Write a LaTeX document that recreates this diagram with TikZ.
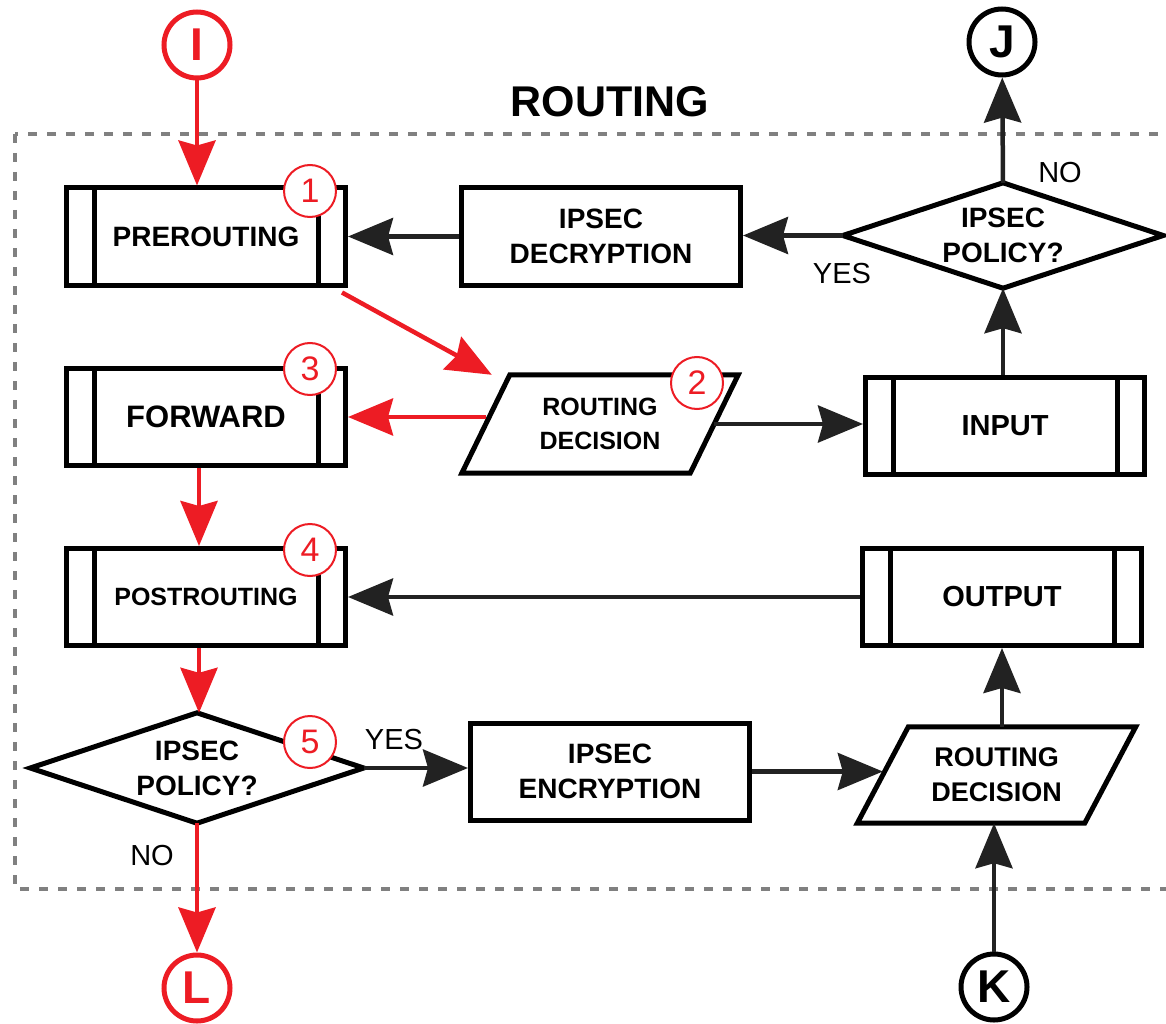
\documentclass[tikz,border=0pt]{standalone}
\usepackage{fontspec}
\setmainfont{Liberation Sans}
\usetikzlibrary{arrows.meta}

\definecolor{flowred}{RGB}{237,28,36}
\definecolor{flowdark}{RGB}{34,34,34}
\definecolor{framegray}{RGB}{128,128,128}

\begin{document}
\begin{tikzpicture}[x=1pt, y=-1pt,
  box/.style={draw, line width=5pt, fill=white, minimum width=279pt, minimum height=97pt,
    inner sep=0pt, align=center, font=\bfseries\fontsize{28}{35}\selectfont},
  plain/.style={inner sep=0pt, align=center, font=\bfseries\fontsize{25}{34}\selectfont},
  badge/.style={circle, draw=flowred, line width=2pt, fill=white, minimum size=52pt,
    inner sep=0pt, text=flowred, font=\fontsize{34}{34}\selectfont},
  term/.style={circle, draw, line width=5pt, fill=white, minimum size=66pt, inner sep=0pt,
    font=\bfseries\fontsize{46}{46}\selectfont},
  lbl/.style={font=\fontsize{29}{29}\selectfont},
  flow/.style={draw=flowdark, line width=4.5pt, -{Stealth[length=45pt, width=37pt, inset=5pt]}},
  redflow/.style={flow, draw=flowred},
]
\useasboundingbox (0,0) rectangle (1166,1024);

\draw[framegray, line width=4.5pt, dash pattern=on 9pt off 10pt] (15,134) rectangle (1190,889);
\node[font=\bfseries\fontsize{43}{43}\selectfont] (title) at (610,102) {ROUTING};

% chains
\node[box, font=\bfseries\fontsize{28}{34}\selectfont] (pre) at (206,236.5) {PREROUTING};
\node[box, font=\bfseries\fontsize{31}{34}\selectfont] (fwd) at (206,417) {FORWARD};
\node[box, font=\bfseries\fontsize{25}{34}\selectfont] (post) at (206,597) {POSTROUTING};
\node[box, font=\bfseries\fontsize{29}{34}\selectfont] (inp) at (1005,426) {INPUT};
\node[box, font=\bfseries\fontsize{29}{34}\selectfont] (out) at (1002,597) {OUTPUT};
\foreach \n in {pre,fwd,post,inp,out}{
  \draw[line width=5pt] ([xshift=30pt]\n.north west) -- ([xshift=30pt]\n.south west);
  \draw[line width=5pt] ([xshift=-30pt]\n.north east) -- ([xshift=-30pt]\n.south east);
}

% ipsec
\node[box] (dec) at (601,236.5) {IPSEC\\DECRYPTION};
\node[box] (enc) at (610,771.5) {IPSEC\\ENCRYPTION};

% routing decisions
\node[plain, minimum width=228pt, minimum height=98pt] (rd1) at (600,424) {ROUTING\\DECISION};
\draw[line width=5pt] ([xshift=24pt]rd1.north west) -- ([xshift=24pt]rd1.north east)
  -- ([xshift=-24pt]rd1.south east) -- ([xshift=-24pt]rd1.south west) -- cycle;
\node[plain, font=\bfseries\fontsize{27}{35}\selectfont, minimum width=227pt, minimum height=96pt] (rd2) at (996.5,775) {ROUTING\\DECISION};
\draw[line width=5pt] ([xshift=25.5pt]rd2.north west) -- ([xshift=25.5pt]rd2.north east)
  -- ([xshift=-25.5pt]rd2.south east) -- ([xshift=-25.5pt]rd2.south west) -- cycle;

% policy checks
\node[plain, font=\bfseries\fontsize{28}{35}\selectfont, minimum width=320pt, minimum height=105pt] (pol1) at (1003,235.5) {IPSEC\\POLICY?};
\draw[line width=5pt] (pol1.north) -- (pol1.east) -- (pol1.south) -- (pol1.west) -- cycle;
\node[plain, font=\bfseries\fontsize{28}{35}\selectfont, minimum width=333pt, minimum height=110pt] (pol2) at (197,768) {IPSEC\\POLICY?};
\draw[line width=5pt] (pol2.north) -- (pol2.east) -- (pol2.south) -- (pol2.west) -- cycle;

% connectors
\node[term, draw=flowred, text=flowred] (I) at (197,45) {I};
\node[term] (J) at (1002,42) {J};
\node[term] (K) at (994,987) {K};
\node[term, draw=flowred, text=flowred] (L) at (197,988) {L};
\coordinate (col) at (199,0);

\draw[redflow] (I) -- (I |- pre.north);
\draw[redflow] ([xshift=-6pt,yshift=-5pt]pre.south east) -- ([xshift=6pt]rd1.north west);
\draw[redflow] (rd1.west |- fwd.east) -- (fwd.east);
\draw[redflow] (col |- fwd.south) -- (col |- post.north);
\draw[redflow] (col |- post.south) -- (col |- pol2.north);
\draw[redflow] (pol2.south) -- (L);

\draw[flow] (dec) -- (pre);
\draw[flow] (pol1.west) -- (pol1.west -| dec.east);
\draw[flow] (pol1.north) -- (J);
\draw[flow] (pol1.south |- inp.north) -- (pol1.south);
\draw[flow] (rd1.east) -- (rd1.east -| inp.west);
\draw[flow] (out) -- (post);
\draw[flow] (pol2.east) -- (pol2.east -| enc.west);
\draw[flow] (enc.east) -- (enc.east -| rd2.west);
\draw[flow] (rd2.north -| out.south) -- (out.south);
\draw[flow] (K) -- (K |- rd2.south);

\node[lbl] (yes1) at (842,274) {YES};
\node[lbl] (no1) at (1060,173) {NO};
\node[lbl] (yes2) at (394,740) {YES};
\node[lbl] (no2) at (152,856) {NO};

% hook numbers
\node[badge] (b1) at (310,191) {1};
\node[badge] (b2) at (697,383) {2};
\node[badge] (b3) at (310,369) {3};
\node[badge] (b4) at (310,550) {4};
\node[badge] (b5) at (310,742) {5};

\end{tikzpicture}
\end{document}
